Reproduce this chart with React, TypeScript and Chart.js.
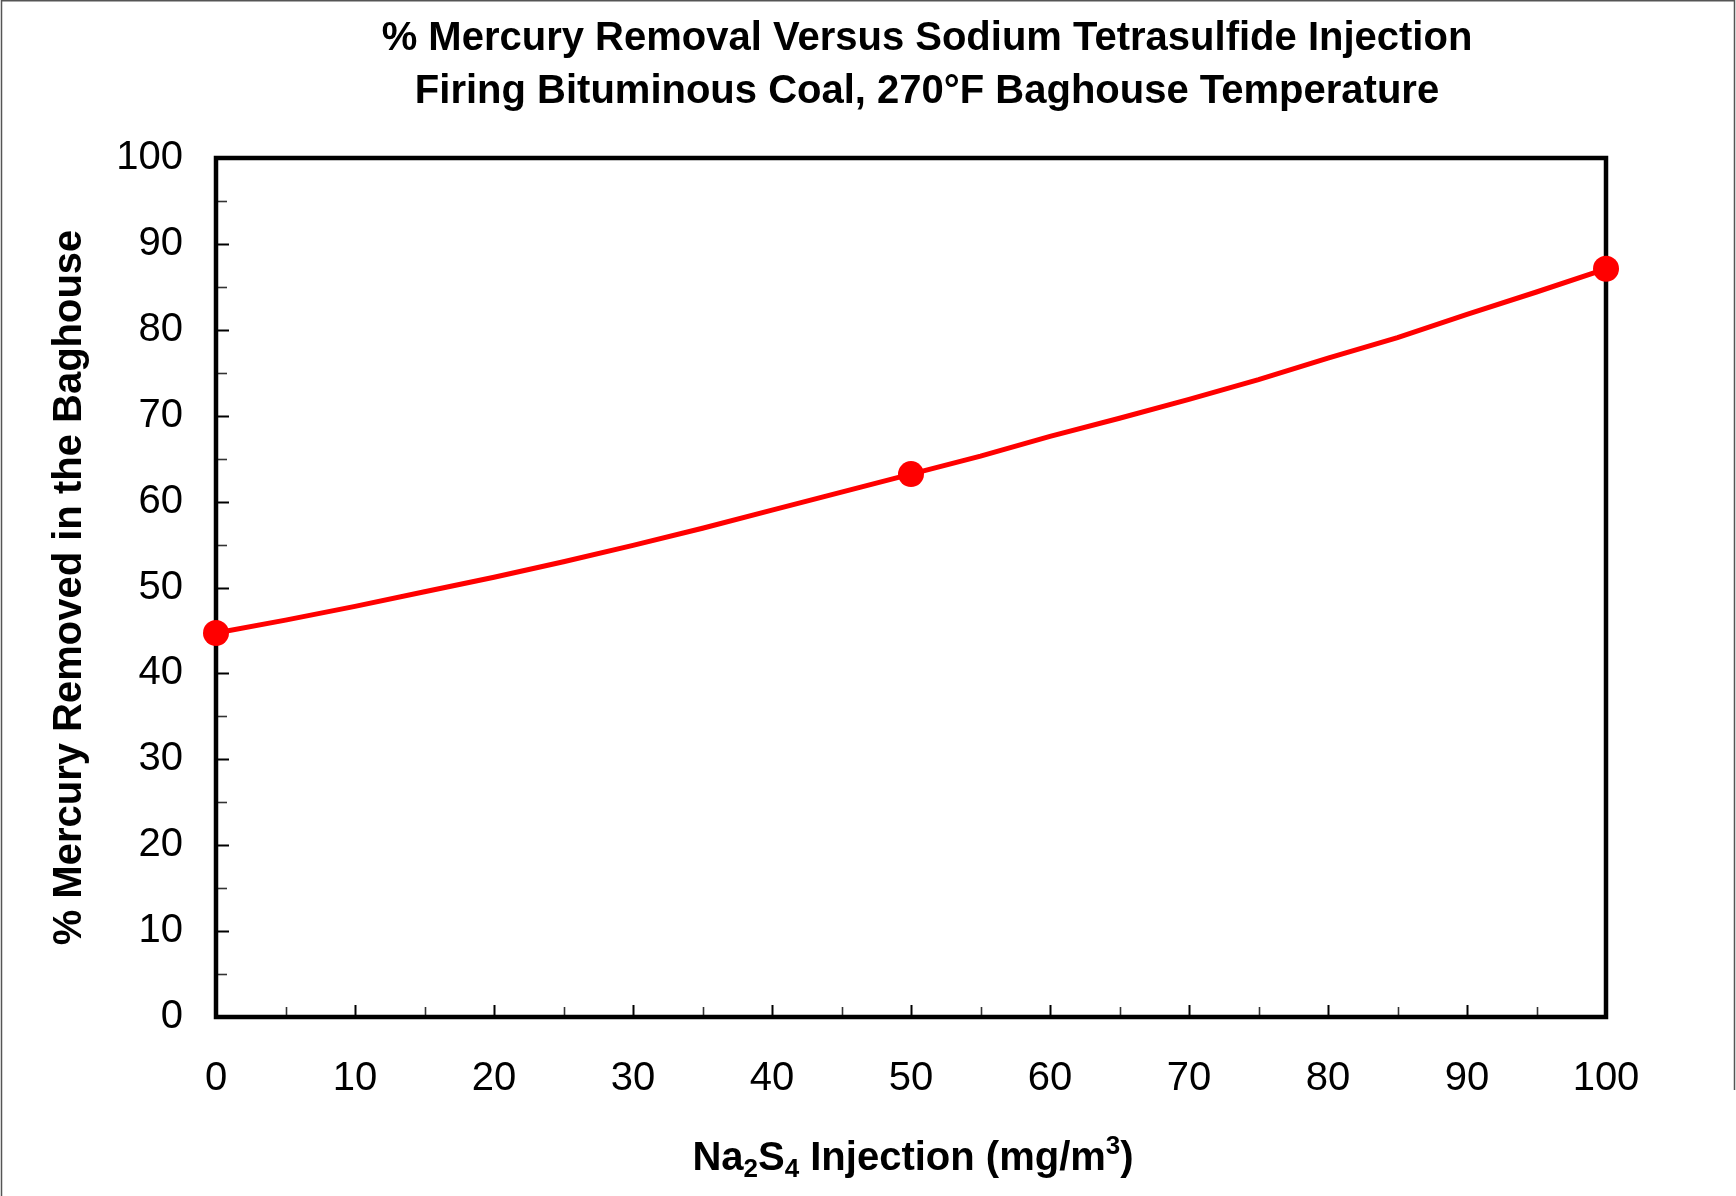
import React, { useEffect, useRef } from "react";
import { Chart, registerables } from "chart.js";

Chart.register(...registerables);

const titleLines = [
  "% Mercury Removal Versus Sodium Tetrasulfide Injection",
  "Firing Bituminous Coal, 270°F Baghouse Temperature",
];
const yAxisTitle = "% Mercury Removed in the Baghouse";

// trend curve
const trendX = [0, 5, 10, 15, 20, 25, 30, 35, 40, 45, 50, 55, 60, 65, 70, 75, 80, 85, 90, 95, 100];
const trendY = [44.7, 46.2, 47.8, 49.5, 51.2, 53.0, 54.9, 56.9, 59.0, 61.1, 63.2, 65.3, 67.6, 69.7, 71.9, 74.2, 76.7, 79.1, 81.8, 84.4, 87.1];

// measured points
const measuredX = [0, 50, 100];
const measuredY = [44.7, 63.2, 87.1];

const xMin = 0;
const xMax = 100;
const yMin = 0;
const yMax = 100;
const majorStep = 10;
const minorStep = 5;

const FONT = "'Liberation Sans', Arial, sans-serif";

export default function App() {
  const ref = useRef<HTMLCanvasElement | null>(null);

  useEffect(() => {
    document.body.style.margin = "0";
    const canvas = ref.current;
    if (!canvas) return;

    const framePlugin = {
      id: "frame",
      beforeDraw(chart: any) {
        const ctx = chart.ctx;
        ctx.save();
        ctx.fillStyle = "#ffffff";
        ctx.fillRect(0, 0, chart.width, chart.height);
        ctx.strokeStyle = "#555555";
        ctx.lineWidth = 1.5;
        ctx.beginPath();
        ctx.moveTo(1.5, chart.height);
        ctx.lineTo(1.5, 0.75);
        ctx.lineTo(chart.width - 1.5, 0.75);
        ctx.lineTo(chart.width - 1.5, 1090);
        ctx.stroke();
        ctx.restore();
      },
      beforeDatasetsDraw(chart: any) {
        const ctx = chart.ctx;
        const a = chart.chartArea;
        const xs = chart.scales.x;
        const ys = chart.scales.y;
        ctx.save();
        // inward ticks
        for (let v = xMin; v <= xMax; v += minorStep) {
          const major = v % majorStep === 0;
          const px = Math.round(xs.getPixelForValue(v)) + 0.5;
          ctx.strokeStyle = major ? "#000" : "#333";
          ctx.lineWidth = major ? 2 : 1.6;
          ctx.beginPath();
          ctx.moveTo(px, a.bottom);
          ctx.lineTo(px, a.bottom - (major ? 12 : 10));
          ctx.stroke();
        }
        for (let v = yMin; v <= yMax; v += minorStep) {
          const major = v % majorStep === 0;
          const py = Math.round(ys.getPixelForValue(v)) + 0.5;
          ctx.strokeStyle = major ? "#000" : "#333";
          ctx.lineWidth = major ? 2 : 1.6;
          ctx.beginPath();
          ctx.moveTo(a.left, py);
          ctx.lineTo(a.left + (major ? 13 : 11), py);
          ctx.stroke();
        }
        // frame
        ctx.strokeStyle = "#000";
        ctx.lineWidth = 4.5;
        ctx.strokeRect(a.left, a.top, a.right - a.left, a.bottom - a.top);
        ctx.restore();
      },
      afterDraw(chart: any) {
        const ctx = chart.ctx;
        ctx.save();
        ctx.fillStyle = "#000";
        ctx.textBaseline = "alphabetic";
        ctx.textAlign = "center";
        ctx.font = `bold 40px ${FONT}`;
        ctx.fillText(titleLines[0], 927, 50);
        ctx.fillText(titleLines[1], 927, 103);

        // x axis title with sub/superscripts
        const parts: { t: string; s: "n" | "sub" | "sup" }[] = [
          { t: "Na", s: "n" },
          { t: "2", s: "sub" },
          { t: "S", s: "n" },
          { t: "4", s: "sub" },
          { t: " Injection (mg/m", s: "n" },
          { t: "3", s: "sup" },
          { t: ")", s: "n" },
        ];
        const big = `bold 40px ${FONT}`;
        const small = `bold 26px ${FONT}`;
        let total = 0;
        for (const p of parts) {
          ctx.font = p.s === "n" ? big : small;
          total += ctx.measureText(p.t).width;
        }
        let x = 913 - total / 2;
        const base = 1170;
        ctx.textAlign = "left";
        for (const p of parts) {
          ctx.font = p.s === "n" ? big : small;
          const dy = p.s === "sub" ? 7 : p.s === "sup" ? -16 : 0;
          ctx.fillText(p.t, x, base + dy);
          x += ctx.measureText(p.t).width;
        }
        ctx.restore();
      },
    };

    const chart = new Chart(canvas, {
      type: "scatter",
      data: {
        datasets: [
          {
            label: "Trend",
            data: trendX.map((x, i) => ({ x, y: trendY[i] })),
            showLine: true,
            borderColor: "#ff0000",
            borderWidth: 5,
            pointRadius: 0,
            tension: 0,
            clip: false as any,
          },
          {
            label: "Measured",
            data: measuredX.map((x, i) => ({ x, y: measuredY[i] })),
            showLine: false,
            backgroundColor: "#ff0000",
            borderColor: "#ff0000",
            pointRadius: 13,
            borderWidth: 0,
            clip: false as any,
          },
        ],
      },
      options: {
        responsive: false,
        animation: false,
        layout: { padding: { left: 0, right: 130, top: 158, bottom: 0 } },
        plugins: {
          legend: { display: false },
          title: { display: false },
          tooltip: { enabled: false },
        },
        scales: {
          x: {
            type: "linear",
            min: xMin,
            max: xMax,
            grid: { display: false },
            border: { display: false },
            ticks: {
              stepSize: majorStep,
              color: "#000",
              font: { family: FONT, size: 40 },
              padding: 30,
              maxRotation: 0,
            },
            afterFit(scale: any) {
              scale.height = 179;
            },
          },
          y: {
            type: "linear",
            min: yMin,
            max: yMax,
            grid: { display: false },
            border: { display: false },
            ticks: {
              stepSize: majorStep,
              color: "#000",
              font: { family: FONT, size: 40 },
              padding: 25,
            },
            title: {
              display: true,
              text: yAxisTitle,
              color: "#000",
              font: { family: FONT, size: 40, weight: "bold" },
              padding: { top: 46, bottom: 0 },
            },
            afterFit(scale: any) {
              scale.width = 216;
            },
          },
        },
      },
      plugins: [framePlugin],
    });

    return () => chart.destroy();
  }, []);

  return (
    <div style={{ position: "absolute", left: 0, top: 0 }}>
      <canvas ref={ref} width={1736} height={1196} />
    </div>
  );
}
